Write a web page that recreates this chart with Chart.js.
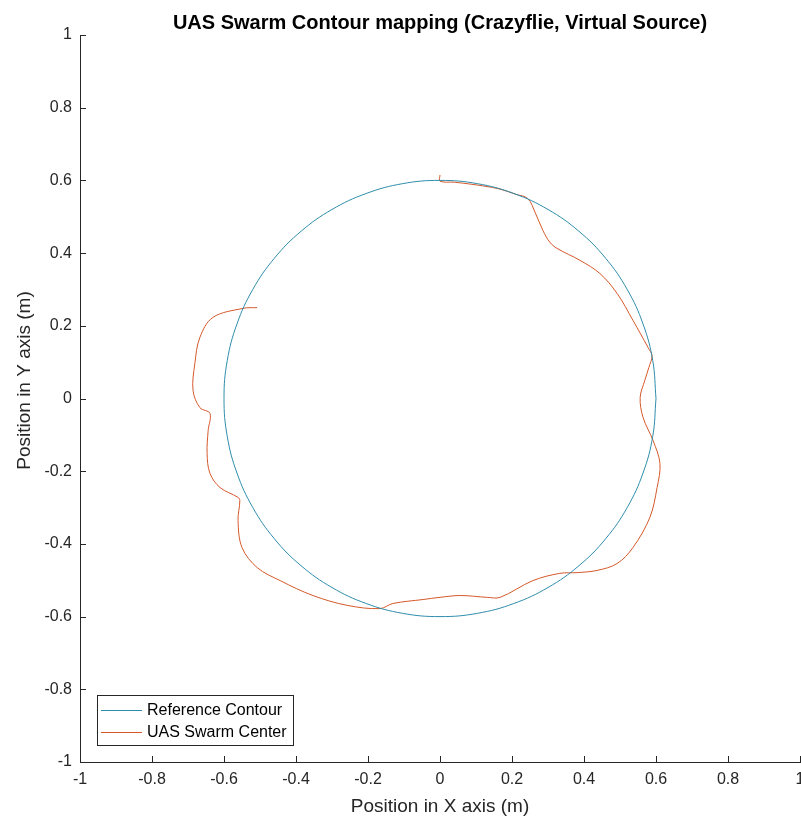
<!DOCTYPE html>
<html>
<head>
<meta charset="utf-8">
<script src="https://cdn.jsdelivr.net/npm/chart.js@4/dist/chart.umd.min.js"></script>
<style>
  html, body { margin: 0; padding: 0; background: #ffffff; }
  #wrap { width: 801px; height: 822px; }
</style>
</head>
<body>
<div id="wrap"><canvas id="c" width="801" height="822"></canvas></div>
<script>
// ---------- data ----------
const chartTitle = 'UAS Swarm Contour mapping (Crazyflie, Virtual Source)';
const xAxisTitle = 'Position in X axis (m)';
const yAxisTitle = 'Position in Y axis (m)';
const seriesNames = ['Reference Contour', 'UAS Swarm Center'];

const xTickLabels = ['-1', '-0.8', '-0.6', '-0.4', '-0.2', '0', '0.2', '0.4', '0.6', '0.8', '1'];
const yTickLabels = ['-1', '-0.8', '-0.6', '-0.4', '-0.2', '0', '0.2', '0.4', '0.6', '0.8', '1'];

// Reference contour (circle of radius 0.6), read at 10 degree steps
const refX = [0.600, 0.591, 0.564, 0.520, 0.460, 0.386, 0.300, 0.205, 0.104, 0.000,
              -0.104, -0.205, -0.300, -0.386, -0.460, -0.520, -0.564, -0.591, -0.600,
              -0.591, -0.564, -0.520, -0.460, -0.386, -0.300, -0.205, -0.104, 0.000,
              0.104, 0.205, 0.300, 0.386, 0.460, 0.520, 0.564, 0.591, 0.600];
const refY = [0.000, 0.104, 0.205, 0.300, 0.386, 0.460, 0.520, 0.564, 0.591, 0.600,
              0.591, 0.564, 0.520, 0.460, 0.386, 0.300, 0.205, 0.104, 0.000,
              -0.104, -0.205, -0.300, -0.386, -0.460, -0.520, -0.564, -0.591, -0.600,
              -0.591, -0.564, -0.520, -0.460, -0.386, -0.300, -0.205, -0.104, 0.000];

// UAS swarm center trajectory
const swarmX = [0.000, 0.000, 0.040, 0.083, 0.125, 0.167, 0.210, 0.244, 0.265, 0.286, 0.305, 0.325,
                0.389, 0.444, 0.492, 0.536, 0.578, 0.589, 0.580, 0.569, 0.556, 0.564, 0.592,
                0.611, 0.603, 0.583, 0.536, 0.492, 0.436, 0.381, 0.333, 0.258, 0.167, 0.131,
                0.056, 0.000, -0.047, -0.131, -0.167, -0.258, -0.353, -0.444, -0.508, -0.550,
                -0.561, -0.556, -0.561, -0.611, -0.639, -0.647, -0.644, -0.639, -0.667, -0.686,
                -0.681, -0.667, -0.631, -0.547, -0.508];
const swarmY = [0.615, 0.598, 0.595, 0.590, 0.584, 0.576, 0.562, 0.550, 0.510, 0.462, 0.430, 0.413,
                0.380, 0.344, 0.289, 0.215, 0.140, 0.118, 0.085, 0.050, 0.003, -0.052, -0.116,
                -0.179, -0.245, -0.327, -0.410, -0.454, -0.473, -0.479, -0.481, -0.501, -0.547, -0.547,
                -0.542, -0.547, -0.553, -0.564, -0.578, -0.569, -0.542, -0.501, -0.465, -0.410,
                -0.336, -0.281, -0.272, -0.245, -0.206, -0.151, -0.088, -0.041, -0.025, 0.022,
                0.096, 0.168, 0.223, 0.248, 0.250];

const refColor = '#2f8dab';
const swarmColor = '#d4582a';
const axisColor = '#262626';
const fontFamily = '"Liberation Sans", Arial, Helvetica, sans-serif';

const toPoints = (xs, ys) => xs.map((x, i) => ({ x: x, y: ys[i] }));

// ---------- plugins ----------
const inwardTicks = {
  id: 'inwardTicks',
  afterDatasetsDraw(chart) {
    const ctx = chart.ctx;
    const xs = chart.scales.x, ys = chart.scales.y;
    const area = chart.chartArea;
    const len = 6;
    ctx.save();
    ctx.strokeStyle = axisColor;
    ctx.lineWidth = 1;
    ctx.beginPath();
    xs.ticks.forEach(t => {
      const px = Math.round(xs.getPixelForValue(t.value)) + 0.5;
      ctx.moveTo(px, area.bottom);
      ctx.lineTo(px, area.bottom - len);
    });
    ys.ticks.forEach(t => {
      const py = Math.round(ys.getPixelForValue(t.value)) + 0.5;
      ctx.moveTo(area.left, py);
      ctx.lineTo(area.left + len, py);
    });
    ctx.stroke();
    ctx.restore();
  }
};

// y-axis title, drawn slightly above the axis centre as in the reference
const yTitle = {
  id: 'yTitle',
  afterDraw(chart) {
    const ctx = chart.ctx;
    const area = chart.chartArea;
    ctx.save();
    ctx.translate(25, (area.top + area.bottom) / 2 - 18);
    ctx.rotate(-Math.PI / 2);
    ctx.font = '19px ' + fontFamily;
    ctx.fillStyle = axisColor;
    ctx.textAlign = 'center';
    ctx.textBaseline = 'middle';
    ctx.fillText(yAxisTitle, 0, 0);
    ctx.restore();
  }
};

const boxLegend = {
  id: 'boxLegend',
  afterDraw(chart) {
    const ctx = chart.ctx;
    const area = chart.chartArea;
    const left = area.left + 17, top = area.bottom - 67;
    const w = 196, h = 50;
    ctx.save();
    ctx.fillStyle = '#ffffff';
    ctx.fillRect(left, top, w, h);
    ctx.strokeStyle = axisColor;
    ctx.lineWidth = 1;
    ctx.strokeRect(left + 0.5, top + 0.5, w, h);
    ctx.font = '16px ' + fontFamily;
    ctx.textBaseline = 'middle';
    chart.data.datasets.forEach((ds, i) => {
      const y = top + 15 + i * 22;
      ctx.strokeStyle = ds.borderColor;
      ctx.beginPath();
      ctx.moveTo(left + 4, y + 0.5);
      ctx.lineTo(left + 45, y + 0.5);
      ctx.stroke();
      ctx.fillStyle = '#000000';
      ctx.fillText(ds.label, left + 50, y + 1);
    });
    ctx.restore();
  }
};

new Chart(document.getElementById('c'), {
  type: 'scatter',
  data: {
    datasets: [
      {
        label: seriesNames[0],
        data: toPoints(refX, refY),
        showLine: true,
        borderColor: refColor,
        backgroundColor: refColor,
        borderWidth: 1,
        pointRadius: 0,
        tension: 0.4
      },
      {
        label: seriesNames[1],
        data: toPoints(swarmX, swarmY),
        showLine: true,
        borderColor: swarmColor,
        backgroundColor: swarmColor,
        borderWidth: 1,
        pointRadius: 0,
        tension: 0.35
      }
    ]
  },
  options: {
    responsive: false,
    animation: false,
    events: [],
    layout: { padding: { left: 0, right: 1, top: 0, bottom: 0 } },
    plugins: {
      legend: { display: false },
      tooltip: { enabled: false },
      title: {
        display: true,
        text: chartTitle,
        fullSize: false,
        color: '#000000',
        font: { family: fontFamily, size: 20, weight: 'bold' },
        padding: { top: 11, bottom: 0 }
      }
    },
    scales: {
      x: {
        type: 'linear',
        min: -1, max: 1,
        border: { display: true, color: axisColor, width: 1 },
        grid: { display: false, drawTicks: false },
        ticks: {
          stepSize: 0.2,
          padding: 8,
          color: axisColor,
          maxRotation: 0,
          font: { family: fontFamily, size: 16 },
          callback: (v, i) => xTickLabels[i]
        },
        title: {
          display: true,
          text: xAxisTitle,
          color: axisColor,
          font: { family: fontFamily, size: 19 },
          padding: 4
        },
        afterFit(scale) { scale.height = 60; scale.paddingLeft = 0; scale.paddingRight = 0; }
      },
      y: {
        type: 'linear',
        min: -1, max: 1,
        border: { display: true, color: axisColor, width: 1 },
        grid: { display: false, drawTicks: false },
        ticks: {
          stepSize: 0.2,
          padding: 8,
          color: axisColor,
          font: { family: fontFamily, size: 16 },
          callback: (v, i) => yTickLabels[i]
        },
        title: { display: false },
        afterFit(scale) { scale.width = 80; scale.paddingTop = 0; scale.paddingBottom = 0; }
      }
    }
  },
  plugins: [inwardTicks, yTitle, boxLegend]
});
</script>
</body>
</html>
